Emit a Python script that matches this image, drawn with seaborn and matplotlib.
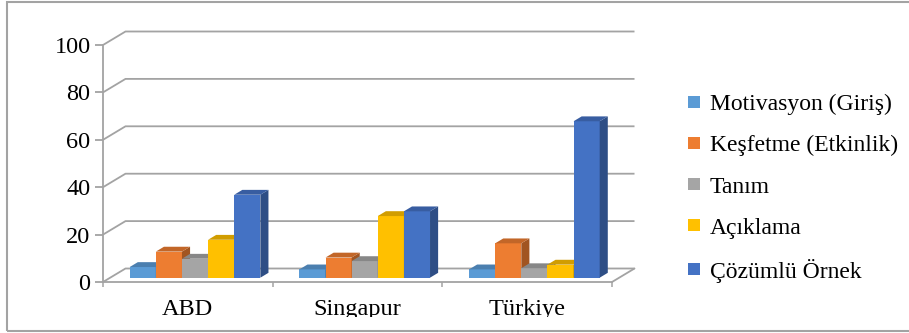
import numpy as np
import pandas as pd
import matplotlib
matplotlib.use('Agg')
import matplotlib.pyplot as plt
import matplotlib.colors as mcolors
from matplotlib.patches import Polygon, Rectangle
from matplotlib.transforms import ScaledTranslation, Bbox, TransformedBbox
import seaborn as sns

# Data
countries = ['ABD', 'Singapur', 'Türkiye']
phases = ['Motivasyon (Giriş)', 'Keşfetme (Etkinlik)', 'Tanım',
          'Açıklama', 'Çözümlü Örnek']
motivasyon = [4.5, 3.5, 3.5]
kesfetme = [11, 8.5, 14.5]
tanim = [8, 7, 4]
aciklama = [16, 26, 5.5]
cozumlu = [35, 28, 66]
yticks = [0, 20, 40, 60, 80, 100]

colors = ['#5B9BD5', '#ED7D31', '#A5A5A5', '#FFC000', '#4472C4']
grid_c = '#A3A3A3'

values = [motivasyon, kesfetme, tanim, aciklama, cozumlu]
df = pd.DataFrame({
    'Ülke': countries * len(phases),
    'Aşama': np.repeat(phases, len(countries)),
    'Değer': np.concatenate(values),
})

sns.set_style('white')
plt.rcParams['font.family'] = ['Liberation Serif', 'DejaVu Serif']
plt.rcParams['text.color'] = 'black'

W, H = 909, 333
fig = plt.figure(figsize=(W / 100, H / 100), dpi=100)

# front plane of the plot area (pixels)
left, right, top, bottom = 103, 612, 45, 282
ax = fig.add_axes([left / W, 1 - bottom / H, (right - left) / W, (bottom - top) / H])
ax.patch.set_visible(False)

sns.barplot(data=df, x='Ülke', y='Değer', hue='Aşama', palette=colors,
            saturation=1, width=0.77, linewidth=0, ax=ax)

ax.set_xlim(-0.5, 2.5)
ax.set_ylim(0, 100)
ax.set_xlabel('')
ax.set_ylabel('')

# depth of the 3D box, in pixels, and pixel -> data units
DX, DY = 22.5, 13.5
ux = 3 / (right - left)
uy = 100 / (bottom - top)
f0, f1 = 0.32, 0.68   # front / back of the bars inside the depth

def shade(c, k):
    r, g, b = mcolors.to_rgb(c)
    return (r * k, g * k, b * k)

off = ScaledTranslation(f0 * DX / 100, f0 * DY / 100, fig.dpi_scale_trans)
fx, fy = f0 * DX * ux, f0 * DY * uy
bx, by = f1 * DX * ux, f1 * DY * uy
for i, cont in enumerate(ax.containers):
    side_c = shade(colors[i], 0.68)
    top_c = shade(colors[i], 0.82)
    for j, bar in enumerate(cont):
        z = 3 + j * 10 + i
        bar.set_transform(ax.transData + off)
        bar.set_zorder(z)
        bar.set_clip_on(False)
        x0, w, h = bar.get_x(), bar.get_width(), bar.get_height()
        x1 = x0 + w
        side = [(x1 + fx, fy), (x1 + fx, h + fy), (x1 + bx, h + by), (x1 + bx, by)]
        topf = [(x0 + fx, h + fy), (x1 + fx, h + fy), (x1 + bx, h + by), (x0 + bx, h + by)]
        ax.add_patch(Polygon(side, closed=True, fc=side_c, ec='none', zorder=z, clip_on=False))
        ax.add_patch(Polygon(topf, closed=True, fc=top_c, ec='none', zorder=z, clip_on=False))

# back wall gridlines with the side-wall diagonals
for v in yticks:
    ax.plot([-0.5, -0.5 + DX * ux, 2.5 + DX * ux], [v, v + DY * uy, v + DY * uy],
            color=grid_c, lw=1.3, clip_on=False, zorder=0.5, solid_capstyle='butt')
ax.plot([2.5, 2.5 + DX * ux], [0, DY * uy], color=grid_c, lw=1.3,
        clip_on=False, zorder=0.5)

sns.despine(ax=ax, top=True, right=True)
for s in ['left', 'bottom']:
    ax.spines[s].set_color(grid_c)
    ax.spines[s].set_linewidth(1.3)

ax.set_yticks(yticks)
ax.tick_params(axis='y', left=True, length=6, width=1.3, color=grid_c,
               pad=3, labelsize=17.5, labelcolor='black')
ax.set_xticks([-0.5, 0.5, 1.5, 2.5], minor=True)
ax.tick_params(axis='x', which='minor', bottom=True, length=3.5, width=1.1, color=grid_c)
ax.tick_params(axis='x', which='major', bottom=False, length=0, pad=12.5,
               labelsize=17.5, labelcolor='black')

# the chart area cuts the bottom of the category labels
clip = TransformedBbox(Bbox([[0, (H - 317) / H], [1, 1]]), fig.transFigure)
for lbl in ax.get_xticklabels():
    lbl.set_clip_box(clip)
    lbl.set_clip_on(True)

handles, labels = ax.get_legend_handles_labels()
ax.legend_.remove()
leg = fig.legend(handles, labels, loc='upper left', bbox_to_anchor=(688 / W, 1 - 94 / H),
                 bbox_transform=fig.transFigure, frameon=False, fontsize=17,
                 handlelength=0.52, handleheight=0.43, handletextpad=0.4,
                 labelspacing=0.85, borderpad=0, borderaxespad=0)
for t in leg.get_texts():
    t.set_color('black')

# outer frame
fig.add_artist(Rectangle((7 / W, 2 / H), 1.2, 329 / H, transform=fig.transFigure,
                         fill=False, ec=grid_c, lw=1.5))

fig.savefig('out.png', dpi=100)
